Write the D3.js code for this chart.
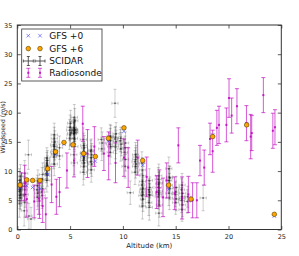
<!DOCTYPE html>
<html>
<head>
<meta charset="utf-8">
<script src="https://cdnjs.cloudflare.com/ajax/libs/d3/7.8.5/d3.min.js"></script>
<style>
body { margin: 0; background: #fff; }
text { font-family: "DejaVu Sans", sans-serif; }
</style>
</head>
<body>
<div id="chart"></div>
<script>
// GFS model, altitude (km) and windspeed (m/s)
var gfsAlt = [0.26, 0.89, 1.45, 2.15, 2.88, 3.63, 4.42, 5.27, 6.28, 7.39, 8.62, 10.1, 11.87, 14.33, 16.45, 18.5, 21.72, 24.34];
var gfs0Speed = [7.1, 7.5, 7.2, 7.0, 9.4, 12.9, 14.6, 14.5, 12.7, 11.7, 15.1, 16.8, 11.0, 6.9, 5.0, 16.2, 18.1, 2.3];
var gfs6Speed = [7.6, 8.5, 8.4, 8.4, 10.4, 13.3, 14.9, 14.5, 13.0, 12.5, 15.6, 17.4, 11.8, 7.6, 5.2, 15.9, 17.9, 2.6];

// radiosonde: altitude, windspeed, error
var radioAlt = [0.4, 0.7, 0.9, 1.6, 2.05, 2.1, 2.4, 2.7, 3.25, 3.7, 4.0, 4.7, 5.37, 6.2, 6.65, 7.3, 8.2, 8.65, 9.3, 10.1, 10.5, 11.4, 12.25, 13.2, 13.45, 13.8, 14.15, 14.9, 15.25, 15.6, 16.2, 16.6, 17.0, 17.3, 17.7, 18.25, 18.5, 18.9, 19.1, 19.8, 20.05, 20.3, 20.8, 21.7, 22.1, 22.2, 23.3, 24.2, 24.4];
var radioSpeed = [7.3, 8.0, 5.2, 4.8, 5.3, 4.9, 4.0, 2.6, 7.7, 5.6, 6.4, 10.1, 11.8, 18.1, 13.0, 14.2, 13.0, 12.6, 11.4, 12.3, 10.6, 12.3, 9.0, 6.4, 7.1, 5.5, 8.4, 6.2, 14.4, 5.4, 6.0, 5.0, 5.0, 11.8, 10.6, 15.5, 13.4, 17.4, 17.9, 17.9, 22.5, 19.5, 21.1, 18.2, 15.9, 16.5, 23.0, 16.9, 17.5];
var radioErr = [2.4, 3.0, 3.1, 2.8, 2.7, 3.0, 2.8, 2.8, 3.1, 3.0, 2.5, 3.0, 2.8, 3.0, 4.1, 3.4, 2.9, 4.1, 3.4, 3.2, 3.4, 3.0, 3.4, 2.8, 3.1, 3.3, 3.0, 2.8, 3.0, 3.6, 3.1, 3.0, 3.0, 2.6, 3.0, 2.7, 3.6, 3.0, 3.2, 2.9, 3.3, 3.0, 3.0, 3.0, 3.8, 3.0, 3.0, 3.0, 3.0];

// SCIDAR: [altitude, windspeed, altitude error, windspeed error]
var scidar = [
  [0.2,4.4,0.25,2.3],[0.3,5.4,0.2,2.0],[0.25,5.8,0.3,2.2],[0.35,6.0,0.25,2.0],[0.2,6.5,0.25,1.9],[0.3,7.0,0.2,1.6],
  [0.25,7.2,0.2,1.8],[0.35,7.8,0.2,1.7],[0.2,8.4,0.2,2.0],[0.3,9.1,0.25,2.0],[0.25,6.8,0.2,1.8],[0.3,7.5,0.2,1.7],
  [0.65,3.2,0.3,2.6],[0.7,4.6,0.3,2.5],[0.75,6.0,0.3,2.2],[0.7,6.8,0.25,2.0],[0.65,7.4,0.2,1.7],[0.75,7.9,0.3,1.9],[0.7,9.6,0.3,2.2],
  [1.05,12.8,0.3,2.5],[1.1,2.3,0.3,2.2],[1.3,1.8,0.35,2.0],
  [1.9,5.5,0.3,2.1],[1.95,6.2,0.3,2.2],[1.85,6.8,0.3,2.0],[1.9,7.5,0.3,1.8],[1.95,8.3,0.3,1.9],
  [2.35,5.8,0.3,2.2],[2.3,6.4,0.3,2.3],[2.4,7.0,0.3,1.8],[2.35,8.6,0.3,2.0],[2.4,9.4,0.3,2.0],
  [2.8,8.4,0.3,2.0],[2.85,9.3,0.25,1.9],[2.75,9.6,0.25,1.6],[2.8,10.1,0.2,1.7],[2.85,10.2,0.25,1.7],[2.8,10.5,0.25,1.8],
  [2.75,10.8,0.2,1.5],[2.85,11.0,0.25,1.6],[2.8,11.4,0.25,1.8],[2.85,11.8,0.25,1.7],[2.8,12.2,0.25,1.8],
  [3.5,11.2,0.3,2.0],[3.45,12.4,0.3,2.0],[3.55,12.8,0.3,2.0],[3.5,13.0,0.3,1.9],[3.45,13.3,0.3,2.1],[3.55,13.6,0.3,1.7],
  [3.5,14.2,0.3,1.8],[3.45,14.5,0.3,1.8],[3.55,15.0,0.3,1.9],[3.5,15.6,0.3,1.9],[3.5,16.2,0.3,2.0],
  [4.0,12.6,0.3,2.0],[4.0,14.0,0.3,2.0],
  [4.95,15.6,0.3,1.9],[5.0,16.2,0.3,1.9],[5.05,16.5,0.3,2.0],[4.95,17.0,0.3,1.8],[5.0,17.5,0.3,2.1],[5.05,18.2,0.3,2.2],
  [5.4,11.4,0.3,2.0],[5.35,12.8,0.3,1.9],[5.45,14.2,0.3,2.1],[5.4,15.6,0.3,1.9],[5.35,16.4,0.25,2.0],[5.45,16.6,0.3,2.0],
  [5.4,16.8,0.25,1.7],[5.35,16.9,0.25,1.9],[5.45,17.0,0.3,1.9],[5.4,17.2,0.25,1.8],[5.35,17.4,0.25,1.8],[5.45,18.6,0.3,2.1],
  [5.4,19.2,0.3,2.2],[5.4,16.5,0.25,1.8],[5.45,17.1,0.25,1.7],
  [6.25,9.8,0.3,2.2],[6.3,10.8,0.3,2.2],[6.35,11.4,0.3,2.0],[6.25,11.8,0.3,2.0],[6.3,12.2,0.3,2.0],[6.35,12.8,0.3,1.9],
  [6.25,13.0,0.3,1.8],[6.3,13.2,0.3,1.8],[6.35,14.0,0.3,2.1],[6.3,14.4,0.3,2.1],[6.25,15.4,0.3,2.0],[6.3,12.5,0.3,1.9],
  [7.0,10.2,0.3,2.1],[7.05,11.2,0.3,2.1],[6.95,11.6,0.3,2.0],[7.0,12.3,0.3,2.0],[7.05,12.8,0.3,1.9],[6.95,13.4,0.3,1.9],[7.0,13.6,0.3,1.9],
  [8.0,13.8,0.3,2.0],[8.05,14.8,0.3,1.9],[7.95,15.4,0.3,2.0],
  [8.8,13.2,0.3,2.0],[8.85,14.2,0.3,1.8],[8.75,14.6,0.3,1.9],[8.8,15.2,0.3,2.1],[8.85,15.8,0.3,2.0],[8.8,16.0,0.3,2.0],
  [9.3,14.2,0.3,2.1],[9.35,15.0,0.3,2.0],[9.25,15.5,0.3,2.0],[9.3,15.8,0.3,1.8],[9.35,16.4,0.3,1.9],[9.25,21.6,0.3,2.4],
  [9.8,13.8,0.3,2.1],[9.85,14.6,0.3,2.0],[9.75,15.2,0.3,1.9],[9.8,15.6,0.3,1.9],
  [10.2,10.8,0.3,2.0],[10.25,12.0,0.3,2.0],[10.15,13.2,0.3,2.2],[10.2,14.0,0.3,2.0],[10.25,14.8,0.3,1.9],
  [10.7,6.3,0.3,2.0],
  [11.15,9.8,0.3,2.1],[11.2,10.8,0.3,2.0],[11.25,11.2,0.3,1.8],[11.15,11.6,0.3,1.9],[11.2,12.0,0.3,2.0],[11.25,12.4,0.3,2.0],
  [11.2,12.8,0.3,2.1],
  [11.85,4.0,0.3,2.2],[11.9,5.2,0.25,2.1],[11.8,5.8,0.3,2.0],[11.85,6.4,0.3,2.0],[11.9,7.0,0.25,1.9],[11.8,7.6,0.3,1.9],
  [11.85,8.2,0.3,1.8],[11.9,9.2,0.3,2.1],[11.85,10.2,0.3,2.1],[11.8,11.4,0.3,1.9],[11.85,6.8,0.25,1.8],[11.9,6.0,0.25,1.9],
  [12.5,3.8,0.3,2.2],[12.45,4.6,0.3,2.2],[12.55,5.8,0.3,2.0],[12.5,6.4,0.3,1.9],[12.45,6.8,0.25,1.9],[12.55,7.2,0.3,1.8],
  [12.5,8.4,0.3,2.0],[12.5,6.0,0.25,1.9],
  [13.4,2.8,0.3,2.2],[13.45,4.2,0.3,2.1],[13.35,5.6,0.3,2.1],[13.4,6.0,0.3,2.1],[13.45,6.6,0.3,1.9],[13.35,7.2,0.3,1.8],
  [13.4,7.8,0.3,2.0],[13.45,8.0,0.3,1.9],[13.35,8.6,0.3,2.0],[13.4,9.2,0.3,2.0],[13.4,6.3,0.3,1.9],
  [14.4,5.4,0.3,2.0],[14.35,6.2,0.3,2.1],[14.45,7.0,0.3,1.9],[14.4,7.6,0.3,2.0],[14.35,8.4,0.3,2.0],[14.45,8.8,0.3,2.0],
  [14.4,9.0,0.3,1.9],[14.35,10.4,0.3,2.0],
  [15.0,4.6,0.3,2.0],[15.05,5.2,0.3,2.0],[14.95,6.0,0.3,2.1],[15.0,6.4,0.3,1.9],[15.05,7.2,0.3,1.9],
  [15.6,3.4,0.3,2.0],[15.65,4.2,0.3,2.0],[15.55,5.0,0.3,2.1],[15.6,5.6,0.3,2.0],[15.65,6.2,0.3,1.9],[15.55,6.8,0.3,1.9],
  [15.6,7.6,0.3,2.0],[15.6,5.3,0.3,1.9],
  [16.1,4.8,0.3,2.0],[16.15,5.6,0.3,1.8],
  [17.6,5.4,0.3,2.2]
];

var xTicks = [0, 5, 10, 15, 20, 25];
var yTicks = [0, 5, 10, 15, 20, 25, 30, 35];

var svgWidth = 299;
var svgHeight = 256;
var margin = {top: 25, right: 17.7, bottom: 26.5, left: 17.3};
var width = svgWidth - margin.left - margin.right;
var height = svgHeight - margin.top - margin.bottom;

var svg = d3.select("#chart")
    .append("svg")
    .attr("width", svgWidth)
    .attr("height", svgHeight);

svg.append("defs").append("clipPath")
    .attr("id", "plotclip")
    .append("rect")
    .attr("width", width)
    .attr("height", height);

var chartGroup = svg.append("g")
    .attr("transform", `translate(${margin.left},${margin.top})`);

var xScale = d3.scaleLinear().domain([0, 25]).range([0, width]);
var yScale = d3.scaleLinear().domain([0, 35]).range([height, 0]);

var plot = chartGroup.append("g").attr("clip-path", "url(#plotclip)");

// SCIDAR error bars
var cap = 1.5;
var scG = plot.append("g")
    .attr("stroke", "#000")
    .attr("stroke-width", 0.8)
    .attr("stroke-opacity", 0.24)
    .attr("fill", "none");
scidar.forEach(function(d){
    var x = xScale(d[0]), y = yScale(d[1]);
    var x0 = xScale(d[0] - d[2]), x1 = xScale(d[0] + d[2]);
    var y0 = yScale(d[1] - d[3]), y1 = yScale(d[1] + d[3]);
    scG.append("path").attr("d",
        `M${x0},${y}H${x1}M${x0},${y-cap}V${y+cap}M${x1},${y-cap}V${y+cap}` +
        `M${x},${y0}V${y1}M${x-cap},${y0}H${x+cap}M${x-cap},${y1}H${x+cap}`);
});
plot.append("g").selectAll("circle")
    .data(scidar)
    .enter()
    .append("circle")
    .attr("cx", d => xScale(d[0]))
    .attr("cy", d => yScale(d[1]))
    .attr("r", 1)
    .attr("fill", "#000")
    .attr("opacity", 0.45);

// radiosonde
var radio = radioAlt.map((a, i) => ({alt: a, speed: radioSpeed[i], err: radioErr[i]}));
var rcap = 2;
var rdG = plot.append("g")
    .attr("stroke", "#bf00bf")
    .attr("stroke-width", 1)
    .attr("stroke-opacity", 0.65)
    .attr("fill", "none");
rdG.selectAll("path")
    .data(radio)
    .enter()
    .append("path")
    .attr("d", function(d){
        var x = xScale(d.alt);
        var y0 = yScale(d.speed - d.err), y1 = yScale(d.speed + d.err);
        return `M${x},${y0}V${y1}M${x-rcap},${y0}H${x+rcap}M${x-rcap},${y1}H${x+rcap}`;
    });
plot.append("g").selectAll("rect")
    .data(radio)
    .enter()
    .append("rect")
    .attr("x", d => xScale(d.alt) - 1)
    .attr("y", d => yScale(d.speed) - 1)
    .attr("width", 2)
    .attr("height", 2)
    .attr("fill", "#bf00bf")
    .attr("opacity", 0.85);

// GFS +0 crosses
var xs = 1.8;
plot.append("g").selectAll("path")
    .data(gfsAlt)
    .enter()
    .append("path")
    .attr("d", function(a, i){
        var x = xScale(a), y = yScale(gfs0Speed[i]);
        return `M${x-xs},${y-xs}L${x+xs},${y+xs}M${x-xs},${y+xs}L${x+xs},${y-xs}`;
    })
    .attr("stroke", "#4040ff")
    .attr("stroke-opacity", 0.6)
    .attr("stroke-width", 1);

// GFS +6 circles
plot.append("g").selectAll("circle")
    .data(gfsAlt)
    .enter()
    .append("circle")
    .attr("cx", a => xScale(a))
    .attr("cy", (a, i) => yScale(gfs6Speed[i]))
    .attr("r", 2.3)
    .attr("fill", "#ffa500")
    .attr("stroke", "#5a4000")
    .attr("stroke-width", 0.6);

// frame and inward ticks on all sides
var tickLen = 3.5;
var axisColor = "#333";
var bottomAxis = d3.axisBottom(xScale).tickValues(xTicks).tickSizeInner(-tickLen).tickSizeOuter(0).tickPadding(5);
var topAxis = d3.axisTop(xScale).tickValues(xTicks).tickSizeInner(-tickLen).tickSizeOuter(0).tickFormat("");
var leftAxis = d3.axisLeft(yScale).tickValues(yTicks).tickSizeInner(-tickLen).tickSizeOuter(0).tickPadding(5);
var rightAxis = d3.axisRight(yScale).tickValues(yTicks).tickSizeInner(-tickLen).tickSizeOuter(0).tickFormat("");

var xAxis = chartGroup.append("g").attr("transform", `translate(0,${height})`).call(bottomAxis);
var x2Axis = chartGroup.append("g").call(topAxis);
var yAxis = chartGroup.append("g").call(leftAxis);
var y2Axis = chartGroup.append("g").attr("transform", `translate(${width},0)`).call(rightAxis);

[xAxis, x2Axis, yAxis, y2Axis].forEach(function(ax){
    ax.select(".domain").remove();
    ax.selectAll("line").attr("stroke", axisColor).attr("stroke-width", 0.8);
    ax.selectAll("text").attr("fill", "#222").style("font-size", "6.5px").style("font-family", "DejaVu Sans");
});

chartGroup.append("rect")
    .attr("width", width)
    .attr("height", height)
    .attr("fill", "none")
    .attr("stroke", axisColor)
    .attr("stroke-width", 1);

// axis labels
chartGroup.append("text")
    .attr("x", width / 2)
    .attr("y", height + 18.5)
    .attr("text-anchor", "middle")
    .style("font-size", "7px")
    .attr("fill", "#222")
    .text("Altitude (km)");

svg.append("text")
    .attr("transform", `translate(5,${margin.top + height / 2}) rotate(-90)`)
    .attr("text-anchor", "middle")
    .style("font-size", "6.2px")
    .attr("fill", "#222")
    .text("Windspeed (m/s)");

// legend
var legend = svg.append("g");
legend.append("rect")
    .attr("x", 21.7)
    .attr("y", 29)
    .attr("width", 80.3)
    .attr("height", 52)
    .attr("fill", "#fff")
    .attr("stroke", axisColor)
    .attr("stroke-width", 0.8);

var legendNames = ["GFS +0", "GFS +6", "SCIDAR", "Radiosonde"];
var legY = [35.7, 48.6, 61, 72.8];
var legX = [28.3, 40];

legendNames.forEach(function(name, i){
    legend.append("text")
        .attr("x", 49.3)
        .attr("y", legY[i] + 3.3)
        .style("font-size", "9px")
        .attr("fill", "#111")
        .text(name);
});
legX.forEach(function(x){
    var y = legY[0];
    legend.append("path")
        .attr("d", `M${x-xs},${y-xs}L${x+xs},${y+xs}M${x-xs},${y+xs}L${x+xs},${y-xs}`)
        .attr("stroke", "#4040ff").attr("stroke-opacity", 0.6).attr("stroke-width", 1);
    legend.append("circle")
        .attr("cx", x).attr("cy", legY[1]).attr("r", 2.3)
        .attr("fill", "#ffa500").attr("stroke", "#5a4000").attr("stroke-width", 0.6);
    var ys = legY[2];
    legend.append("path")
        .attr("d", `M${x-5},${ys}H${x+5}M${x-5},${ys-cap}V${ys+cap}M${x+5},${ys-cap}V${ys+cap}` +
            `M${x},${ys-4.5}V${ys+4.5}M${x-cap},${ys-4.5}H${x+cap}M${x-cap},${ys+4.5}H${x+cap}`)
        .attr("stroke", "#333").attr("stroke-width", 0.8).attr("fill", "none");
    var yr = legY[3];
    legend.append("path")
        .attr("d", `M${x},${yr-4.5}V${yr+4.5}M${x-rcap},${yr-4.5}H${x+rcap}M${x-rcap},${yr+4.5}H${x+rcap}`)
        .attr("stroke", "#bf00bf").attr("stroke-opacity", 0.65).attr("stroke-width", 1).attr("fill", "none");
    legend.append("rect")
        .attr("x", x - 1).attr("y", yr - 1).attr("width", 2).attr("height", 2)
        .attr("fill", "#bf00bf").attr("opacity", 0.85);
});
</script>
</body>
</html>
